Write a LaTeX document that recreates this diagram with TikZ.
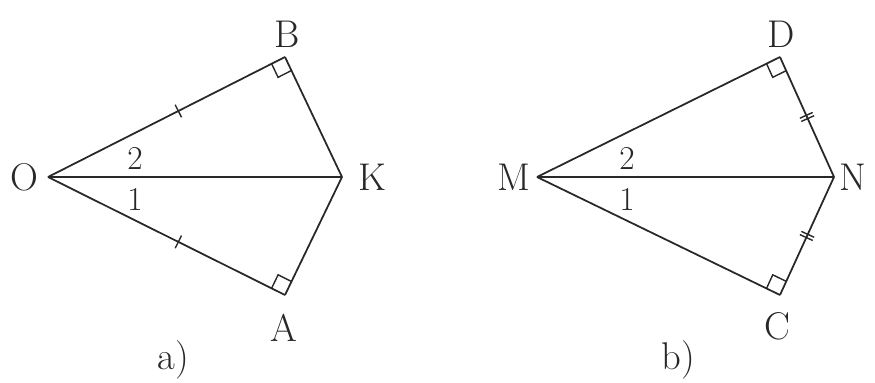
\documentclass[tikz,border=0pt]{standalone}
\usepackage{tikz}
\usetikzlibrary{calc,decorations.markings}
\definecolor{inkgray}{RGB}{40,40,40}
\tikzset{
  geoline/.style={line width=1pt, draw=inkgray},
  ptlabel/.style={font=\fontsize{22}{24}\selectfont, text=inkgray, inner sep=0pt},
  anglelabel/.style={font=\fontsize{19}{21}\selectfont, text=inkgray, inner sep=0pt},
  squaremark/.style={line width=0.8pt, draw=inkgray},
  onetick/.style={decoration={markings,
      mark=at position 0.55 with {\draw[line width=0.8pt] (0,-4pt) -- (0,4pt);}},
    postaction=decorate},
  twoticks/.style={decoration={markings,
      mark=at position 0.5 with {\draw[line width=0.8pt] (-1pt,-4pt) -- (-1pt,4pt) (1pt,-4pt) -- (1pt,4pt);}},
    postaction=decorate}
}

\begin{document}
\begin{tikzpicture}[x=0.02cm, y=-0.02cm]
    \useasboundingbox (0,0) rectangle (875,382);

    % figure a)
    \coordinate (O) at (48,177);
    \coordinate (K) at (342,177);
    \coordinate (B) at (285,57);
    \coordinate (A) at (285,295);

    \draw[geoline, onetick] (O) -- (B);
    \draw[geoline, onetick] (O) -- (A);
    \draw[geoline] (B) -- (K) -- (A);
    \draw[geoline] (O) -- (K);

    \coordinate (bo) at ($(B)!0.3cm!(O)$);
    \coordinate (bk) at ($(B)!0.3cm!(K)$);
    \draw[squaremark] (bo) -- ($(bo)+(bk)-(B)$) -- (bk);
    \coordinate (ao) at ($(A)!0.3cm!(O)$);
    \coordinate (ak) at ($(A)!0.3cm!(K)$);
    \draw[squaremark] (ao) -- ($(ao)+(ak)-(A)$) -- (ak);

    \node[ptlabel] (lO) at (24,177) {O};
    \node[ptlabel] (lK) at (372,177) {K};
    \node[ptlabel] (lB) at (287,34) {B};
    \node[ptlabel] (lA) at (284,328) {A};
    \node[anglelabel] (a2) at (135,158) {2};
    \node[anglelabel] (a1) at (135,199) {1};
    \node[ptlabel] (capa) at (173,360) {a)};

    % figure b)
    \coordinate (M) at (537,177);
    \coordinate (N) at (834,177);
    \coordinate (D) at (780,57);
    \coordinate (C) at (780,295);

    \draw[geoline] (M) -- (D);
    \draw[geoline] (M) -- (C);
    \draw[geoline, twoticks] (D) -- (N);
    \draw[geoline, twoticks] (N) -- (C);
    \draw[geoline] (M) -- (N);

    \coordinate (dm) at ($(D)!0.3cm!(M)$);
    \coordinate (dn) at ($(D)!0.3cm!(N)$);
    \draw[squaremark] (dm) -- ($(dm)+(dn)-(D)$) -- (dn);
    \coordinate (cm) at ($(C)!0.3cm!(M)$);
    \coordinate (cn) at ($(C)!0.3cm!(N)$);
    \draw[squaremark] (cm) -- ($(cm)+(cn)-(C)$) -- (cn);

    \node[ptlabel] (lM) at (514,177) {M};
    \node[ptlabel] (lN) at (853,177) {N};
    \node[ptlabel] (lD) at (781,34) {D};
    \node[ptlabel] (lC) at (777,326) {C};
    \node[anglelabel] (b2) at (627,158) {2};
    \node[anglelabel] (b1) at (627,199) {1};
    \node[ptlabel] (capb) at (678,360) {b)};
\end{tikzpicture}
\end{document}
